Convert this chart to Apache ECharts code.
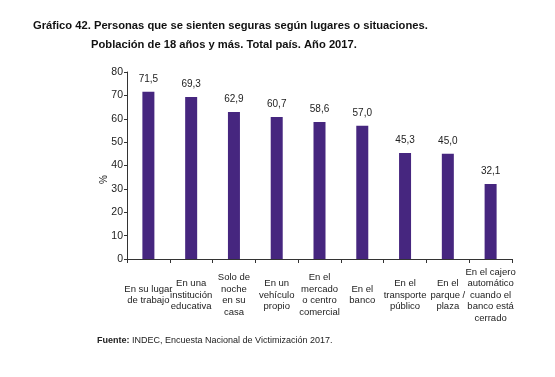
<!DOCTYPE html>
<html>
<head>
<meta charset="utf-8">
<script src="https://cdn.jsdelivr.net/npm/echarts@6/dist/echarts.min.js"></script>
<style>
  html, body { margin: 0; padding: 0; background: #fff; }
  #chart { width: 555px; height: 377px; }
</style>
</head>
<body>
<div id="chart"></div>
<script>
// categorías y valores (%)
const categories = [
  'En su lugar\nde trabajo',
  'En una\ninstitución\neducativa',
  'Solo de\nnoche\nen su\ncasa',
  'En un\nvehículo\npropio',
  'En el\nmercado\no centro\ncomercial',
  'En el\nbanco',
  'En el\ntransporte\npúblico',
  'En el\nparque /\nplaza',
  'En el cajero\nautomático\ncuando el\nbanco está\ncerrado'
];
const values = [71.5, 69.3, 62.9, 60.7, 58.6, 57.0, 45.3, 45.0, 32.1];

const chart = echarts.init(document.getElementById('chart'));

const option = {
  animation: false,
  textStyle: { fontFamily: 'Liberation Sans, Arial, sans-serif' },
  title: [
    {
      text: 'Gráfico 42. Personas que se sienten seguras según lugares o situaciones.',
      left: 28, top: 15,
      textStyle: { fontSize: 11.2, fontWeight: 'bold', color: '#111' }
    },
    {
      text: 'Población de 18 años y más. Total país. Año 2017.',
      left: 86, top: 34,
      textStyle: { fontSize: 11.2, fontWeight: 'bold', color: '#111' }
    },
    {
      text: '{b|Fuente:} INDEC, Encuesta Nacional de Victimización 2017.',
      left: 92, top: 331,
      textStyle: {
        fontSize: 9, fontWeight: 'normal', color: '#222',
        rich: { b: { fontSize: 9, fontWeight: 'bold', color: '#222' } }
      }
    }
  ],
  grid: { left: 127, right: 43, top: 72, bottom: 118 },
  xAxis: {
    type: 'category',
    data: categories,
    axisLine: { lineStyle: { color: '#333', width: 1 } },
    axisTick: { show: true, length: 4, lineStyle: { color: '#333' } },
    axisLabel: {
      interval: 0,
      color: '#222',
      fontSize: 9.5,
      lineHeight: 11.5,
      verticalAlign: 'middle',
      margin: 36
    }
  },
  yAxis: {
    type: 'value',
    min: 0, max: 80, interval: 10,
    name: '%',
    nameLocation: 'middle',
    nameGap: 18,
    nameMoveOverlap: false,
    nameTextStyle: { color: '#222', fontSize: 10, padding: [0, 28, 0, 0] },
    splitLine: { show: false },
    axisLine: { show: true, lineStyle: { color: '#333', width: 1 } },
    axisTick: { show: true, length: 3, lineStyle: { color: '#333' } },
    axisLabel: { color: '#222', fontSize: 10.5, margin: 4 }
  },
  series: [{
    type: 'bar',
    data: values,
    barWidth: 12,
    itemStyle: { color: '#46267f' },
    label: {
      show: true,
      position: 'top',
      distance: 8,
      color: '#222',
      fontSize: 10,
      formatter: p => p.value.toFixed(1).replace('.', ',')
    }
  }]
};

chart.setOption(option);
</script>
</body>
</html>
